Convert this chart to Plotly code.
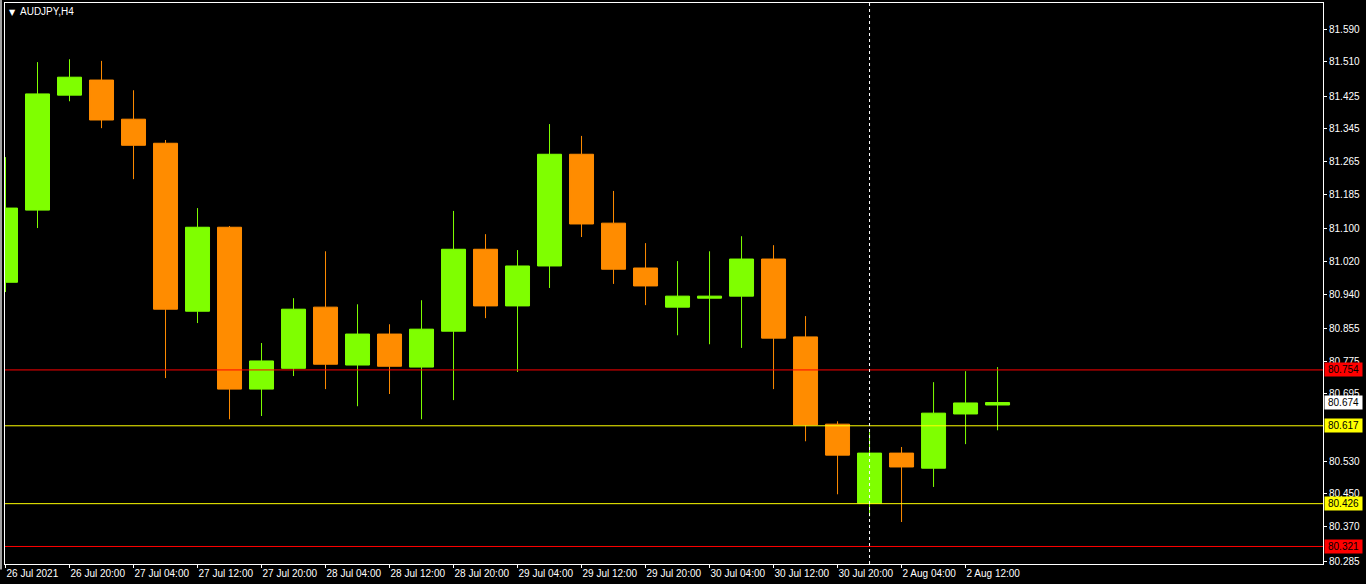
import plotly.graph_objects as go

symbol_title = "AUDJPY,H4"

bar_times = [
    "26 Jul 12:00", "26 Jul 16:00", "26 Jul 20:00",
    "27 Jul 00:00", "27 Jul 04:00", "27 Jul 08:00", "27 Jul 12:00", "27 Jul 16:00", "27 Jul 20:00",
    "28 Jul 00:00", "28 Jul 04:00", "28 Jul 08:00", "28 Jul 12:00", "28 Jul 16:00", "28 Jul 20:00",
    "29 Jul 00:00", "29 Jul 04:00", "29 Jul 08:00", "29 Jul 12:00", "29 Jul 16:00", "29 Jul 20:00",
    "30 Jul 00:00", "30 Jul 04:00", "30 Jul 08:00", "30 Jul 12:00", "30 Jul 16:00", "30 Jul 20:00",
    "2 Aug 00:00", "2 Aug 04:00", "2 Aug 08:00", "2 Aug 12:00", "2 Aug 16:00",
]

open_prices = [80.969, 81.146, 81.428, 81.465, 81.369, 81.310, 80.898, 81.104, 80.707, 80.758,
               80.908, 80.766, 80.842, 80.761, 80.849, 81.050, 80.911, 81.009, 81.283, 81.114,
               81.004, 80.908, 80.930, 80.935, 81.026, 80.835, 80.621, 80.427, 80.550, 80.513,
               80.646, 80.668]
high_prices = [81.276, 81.509, 81.516, 81.512, 81.440, 81.318, 81.151, 81.107, 80.820, 80.930,
               81.045, 80.915, 80.866, 80.925, 81.144, 81.087, 81.048, 81.357, 81.328, 81.193,
               81.065, 81.021, 81.045, 81.082, 81.060, 80.886, 80.628, 80.601, 80.565, 80.724,
               80.751, 80.761]
low_prices = [80.945, 81.102, 81.413, 81.347, 81.222, 80.734, 80.869, 80.633, 80.641, 80.739,
              80.707, 80.665, 80.695, 80.633, 80.680, 80.881, 80.749, 80.955, 81.080, 80.965,
              80.913, 80.839, 80.817, 80.808, 80.707, 80.579, 80.449, 80.395, 80.381, 80.467,
              80.572, 80.606]
close_prices = [81.151, 81.431, 81.472, 81.367, 81.305, 80.903, 81.104, 80.707, 80.776, 80.903,
                80.768, 80.842, 80.763, 80.854, 81.050, 80.911, 81.009, 81.283, 81.112, 81.001,
                80.960, 80.935, 80.935, 81.026, 80.832, 80.619, 80.545, 80.550, 80.516, 80.648,
                80.673, 80.674]

x_tick_times = bar_times[0::2]
x_tick_labels = ["26 Jul 2021", "26 Jul 20:00", "27 Jul 04:00", "27 Jul 12:00", "27 Jul 20:00",
                 "28 Jul 04:00", "28 Jul 12:00", "28 Jul 20:00", "29 Jul 04:00", "29 Jul 12:00",
                 "29 Jul 20:00", "30 Jul 04:00", "30 Jul 12:00", "30 Jul 20:00", "2 Aug 04:00",
                 "2 Aug 12:00"]

price_ticks = [81.590, 81.510, 81.425, 81.345, 81.265, 81.185, 81.100, 81.020, 80.940,
               80.855, 80.775, 80.695, 80.530, 80.450, 80.370, 80.285]

level_prices = [80.754, 80.617, 80.426, 80.321]
level_colors = ["#ff0000", "#ffff00", "#ffff00", "#ff0000"]
last_price = 80.674
week_start = "2 Aug 00:00"

bull = "#7fff00"
bear = "#ff8c00"
font_name = "Liberation Sans"

fig = go.Figure()
fig.add_trace(go.Candlestick(x=bar_times,
                             open=open_prices,
                             high=high_prices,
                             low=low_prices,
                             close=close_prices,
                             increasing=dict(line=dict(color=bull, width=1), fillcolor=bull),
                             decreasing=dict(line=dict(color=bear, width=1), fillcolor=bear),
                             whiskerwidth=0,
                             showlegend=False,
                             hoverinfo="skip"))

# horizontal levels + their price boxes on the scale
for price, colour in zip(level_prices, level_colors):
    fig.add_shape(type="line", xref="paper", x0=0, x1=1, yref="y", y0=price, y1=price,
                  line=dict(color=colour, width=1))
    fig.add_annotation(xref="paper", x=1, xanchor="left", xshift=1, yref="y", y=price,
                       text="{:.3f}".format(price), showarrow=False, bgcolor=colour,
                       font=dict(family=font_name, size=10, color="black"),
                       width=35, height=11, borderpad=1)

fig.add_annotation(xref="paper", x=1, xanchor="left", xshift=1, yref="y", y=last_price,
                   text="{:.3f}".format(last_price), showarrow=False, bgcolor="white",
                   font=dict(family=font_name, size=10, color="black"),
                   width=35, height=11, borderpad=1)

# period separator
fig.add_shape(type="line", xref="x", x0=bar_times.index(week_start), x1=bar_times.index(week_start),
              yref="paper", y0=0, y1=1, line=dict(color="white", width=1, dash="3px,3px"))

# grey strip on far left
fig.add_shape(type="line", xref="paper", x0=-4 / 1318, x1=-4 / 1318, yref="paper", y0=-0.01, y1=1.01,
              line=dict(color="#a0a0a0", width=2))

fig.add_annotation(xref="paper", yref="paper", x=0, y=1, xanchor="left", yanchor="top",
                   xshift=2, yshift=-3, text="▼", showarrow=False,
                   font=dict(family="DejaVu Sans", size=8, color="white"))
fig.add_annotation(xref="paper", yref="paper", x=0, y=1, xanchor="left", yanchor="top",
                   xshift=13, yshift=-1, text=symbol_title, showarrow=False,
                   font=dict(family=font_name, size=10, color="white"))

fig.update_layout(width=1366, height=584,
                  paper_bgcolor="black",
                  plot_bgcolor="black",
                  margin=dict(l=5, r=43, t=3, b=20),
                  boxgap=0.25, boxgroupgap=0,
                  font=dict(family=font_name, size=10, color="white"))

fig.update_xaxes(type="category",
                 range=[-0.016, 41.17],
                 rangeslider_visible=False,
                 showgrid=False,
                 zeroline=False,
                 showline=True, linecolor="white", linewidth=1, mirror=True,
                 ticks="outside", ticklen=3, tickcolor="white",
                 tickvals=x_tick_times, ticktext=x_tick_labels,
                 ticklabelposition="outside right",
                 tickfont=dict(family=font_name, size=10, color="white"))

fig.update_yaxes(side="right",
                 range=[80.278, 81.654],
                 showgrid=False,
                 zeroline=False,
                 showline=True, linecolor="white", linewidth=1, mirror=True,
                 ticks="outside", ticklen=3, tickcolor="white",
                 tickvals=price_ticks, ticktext=["{:.3f}".format(v) for v in price_ticks],
                 tickfont=dict(family=font_name, size=10, color="white"))

# page has a default body margin; drop it so the chart sits at the window's corner
fig.write_html("out.html",
               config={"displayModeBar": False},
               post_script="document.body.style.margin='0';document.body.style.overflow='hidden';")
